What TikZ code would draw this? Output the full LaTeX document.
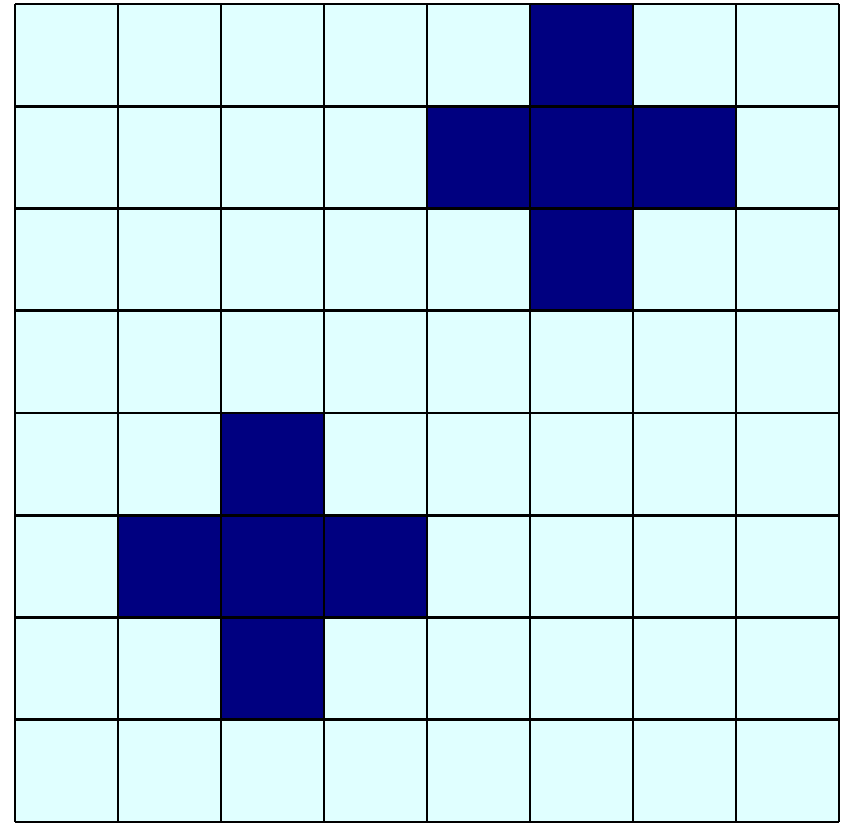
\documentclass[tikz,border=0pt]{standalone}
\definecolor{cellbg}{HTML}{E0FFFF}
\definecolor{cellon}{HTML}{000080}
\tikzset{gridline/.style={draw=black,line width=2.6pt}}
\begin{document}
\begin{tikzpicture}[x=1pt,y=-1pt]
\useasboundingbox (0,0) rectangle (844,823);
\def\cw{103}
\def\ch{102.25}
\def\ox{15}
\def\oy{4}
\fill[cellbg] (\ox,\oy) rectangle ({\ox+8*\cw},{\oy+8*\ch});
\foreach \r/\c in {0/5,1/4,1/5,1/6,2/5,4/2,5/1,5/2,5/3,6/2}{
  \fill[cellon] ({\ox+\c*\cw},{\oy+\r*\ch}) rectangle ({\ox+(\c+1)*\cw},{\oy+(\r+1)*\ch});
}
\foreach \i in {0,...,8}{
  \draw[gridline] ({\ox+\i*\cw},\oy) -- ({\ox+\i*\cw},{\oy+8*\ch});
  \draw[gridline] (\ox,{\oy+\i*\ch}) -- ({\ox+8*\cw},{\oy+\i*\ch});
}
\end{tikzpicture}
\end{document}
